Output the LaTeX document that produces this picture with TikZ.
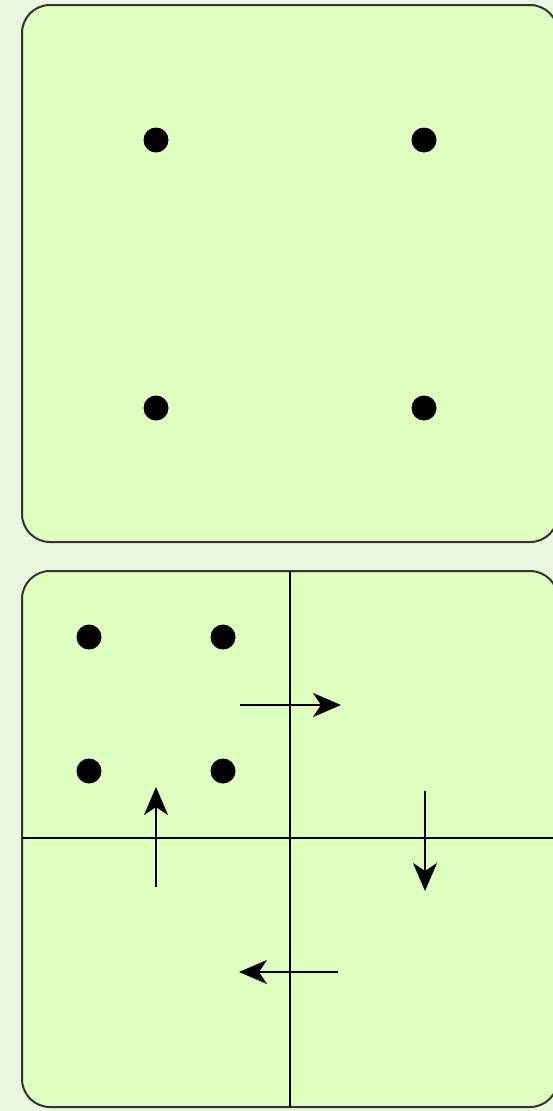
\documentclass[tikz,border=0pt]{standalone}
\usetikzlibrary{arrows.meta}
\definecolor{bgc}{HTML}{E9F6E0}
\definecolor{panel}{HTML}{DEFFC0}
\definecolor{edge}{HTML}{333333}
\tikzset{
  panelbox/.style={draw=edge, line width=2pt, fill=panel, rounded corners=28pt},
  dotnode/.style={circle, fill=black, inner sep=0pt, minimum size=25pt},
  divider/.style={draw=black, line width=2pt},
  movearrow/.style={draw=black, line width=2pt, -{Stealth[length=28pt,width=24pt,inset=8pt]}}
}
\begin{document}
\begin{tikzpicture}[x=1pt,y=-1pt]
\useasboundingbox (0,0) rectangle (553,1111);
\clip (0,0) rectangle (553,1111);
\fill[bgc] (0,0) rectangle (553,1111);
% top panel
\path[panelbox] (22,5) rectangle (558,542);
\node[dotnode] (t1) at (156,140) {};
\node[dotnode] (t2) at (424,140) {};
\node[dotnode] (t3) at (156,408) {};
\node[dotnode] (t4) at (424,408) {};
% bottom panel
\path[panelbox] (22,571) rectangle (558,1107);
\coordinate (vt) at (290,571);
\coordinate (vb) at (290,1107);
\coordinate (hl) at (22,838);
\coordinate (hr) at (558,838);
\draw[divider] (vt) -- (vb);
\draw[divider] (hl) -- (hr);
\node[dotnode] (b1) at (89,637) {};
\node[dotnode] (b2) at (223,637) {};
\node[dotnode] (b3) at (89,771) {};
\node[dotnode] (b4) at (223,771) {};
\coordinate (r1) at (240,705);
\coordinate (r2) at (341,705);
\coordinate (d1) at (425,791);
\coordinate (d2) at (425,891);
\coordinate (l1) at (338,972);
\coordinate (l2) at (239,972);
\coordinate (u1) at (156,887);
\coordinate (u2) at (156,787);
\draw[movearrow] (r1) -- (r2);
\draw[movearrow] (d1) -- (d2);
\draw[movearrow] (l1) -- (l2);
\draw[movearrow] (u1) -- (u2);
\end{tikzpicture}
\end{document}
